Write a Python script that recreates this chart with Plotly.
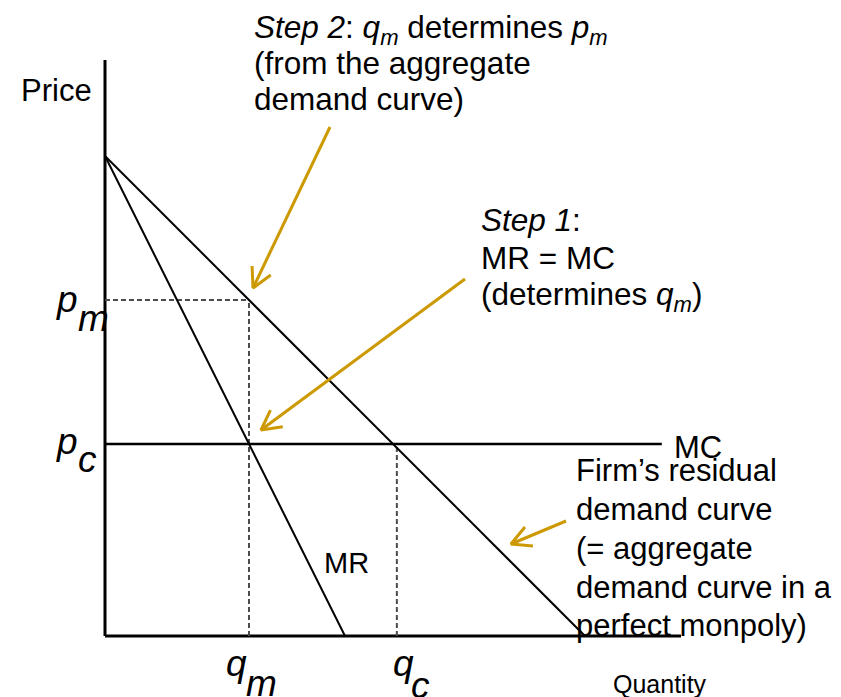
import plotly.graph_objects as go
import math

# ---- economic data (price/quantity units) ----
demand_q = [0, 10]          # aggregate / residual demand: P = 10 - Q
demand_p = [10, 0]
mr_q = [0, 5]               # marginal revenue: MR = 10 - 2Q
mr_p = [10, 0]
mc_q = [0, 11.6]            # marginal cost (flat)
mc_level = 4
q_m, p_m = 3, 7             # monopoly quantity / price
q_c, p_c = 6.08, 4          # competitive quantity / price
axis_max_q = 12
axis_max_p = 12

# ---- layout mapping (screen pixels per unit, origin position) ----
WIN_W, WIN_H = 841, 697
PAD = 8                      # page body margin
W, H = WIN_W - PAD, WIN_H - PAD
OX, OY, S = 105, 636, 48.0
def dx(px):  # screen pixel x -> data
    return (px - OX) / S
def dy(py):  # screen pixel y -> data
    return (OY - py) / S

FONT = "Liberation Sans, Arial, sans-serif"
GOLD = "#CC9900"

fig = go.Figure()

def line(xs, ys, color="black", width=2, dash=None):
    fig.add_trace(go.Scatter(x=xs, y=ys, mode="lines",
                             line=dict(color=color, width=width, dash=dash),
                             hoverinfo="skip", showlegend=False))

# axes
line([0, 0], [0, axis_max_p], width=3)
line([0, axis_max_q], [0, 0], width=3)
# dashed guides
line([0, q_m], [p_m, p_m], color="#4d4d4d", width=2, dash="5px,3px")
line([q_m, q_m], [0, p_m], color="#4d4d4d", width=2, dash="5px,3px")
line([q_c, q_c], [0, p_c], color="#4d4d4d", width=2, dash="5px,3px")
# curves
line(demand_q, demand_p, width=2)
line(mr_q, mr_p, width=2)
line(mc_q, [mc_level, mc_level], width=2.5)

# ---- arrows (tail -> tip, in data units) ----
arrows = [
    ((dx(330), dy(127)), (q_m + dx(253) - dx(249), p_m + dy(288) - dy(300))),
    ((dx(465), dy(279)), (q_m + dx(261) - dx(249), p_c + dy(432) - dy(446))),
    ((dx(566), dy(521)), (dx(511), dy(544))),
]
BARB = 22 / S
ANG = math.radians(28)
for (tx, ty), (hx, hy) in arrows:
    line([tx, hx], [ty, hy], color=GOLD, width=3)
    ang = math.atan2(ty - hy, tx - hx)
    bx, by = [], []
    for a in (ang + ANG, ang - ANG):
        bx.append(hx + BARB * math.cos(a)); by.append(hy + BARB * math.sin(a))
    line([bx[0], hx, bx[1]], [by[0], hy, by[1]], color=GOLD, width=3)

ann = []
def text(t, left_px, baseline_px, size, color="black"):
    top = baseline_px - 0.905 * size
    ann.append(dict(x=dx(left_px), y=dy(top), xref="x", yref="y", text=t,
                    showarrow=False, xanchor="left", yanchor="top",
                    borderpad=0, font=dict(family=FONT, size=size, color=color)))

# axis titles
text("Price", 20, 100, 31)
text("Quantity", 612, 692, 25)

# curve labels
text("MR", 323, 572, 29)
text("MC", 673, 457, 31)

# price / quantity markers (big italic letter + big italic subscript)
ypm = OY - p_m * S
ypc = OY - p_c * S
xqm = OX + q_m * S
xqc = OX + q_c * S
text("<i>p</i>", 55, ypm + 11, 37)
text("<i>m</i>", 77, ypm + 30, 37)
text("<i>p</i>", 55, ypc + 9, 37)
text("<i>c</i>", 77, ypc + 27, 37)
text("<i>q</i>", xqm - 24, 675, 37)
text("<i>m</i>", xqm - 4, 695, 37)
text("<i>q</i>", xqc - 5, 675, 37)
text("<i>c</i>", xqc + 13, 697, 37)

# Step 2 block
step2 = ["<i>Step 2</i>: <i>q<sub>m</sub></i> determines <i>p<sub>m</sub></i>",
         "(from the aggregate",
         "demand curve)"]
for i, s in enumerate(step2):
    text(s, 253, 37 + 36 * i, 31.5)

# Step 1 block
step1 = ["<i>Step 1</i>:", "MR = MC", "(determines <i>q<sub>m</sub></i>)"]
for s, b in zip(step1, [230, 268, 304]):
    text(s, 480, b, 31.5)

# residual demand block
firm = ["Firm’s residual", "demand curve", "(= aggregate",
        "demand curve in a", "perfect monpoly)"]
for s, b in zip(firm, [480, 519, 558, 597, 635]):
    text(s, 575, b, 31)

fig.update_layout(
    width=W, height=H, margin=dict(l=0, r=0, t=0, b=0),
    paper_bgcolor="white", plot_bgcolor="white",
    xaxis=dict(range=[dx(PAD), dx(WIN_W)], visible=False, fixedrange=True),
    yaxis=dict(range=[dy(WIN_H), dy(PAD)], visible=False, fixedrange=True),
    annotations=ann, showlegend=False,
)
fig.write_html("out.html")
